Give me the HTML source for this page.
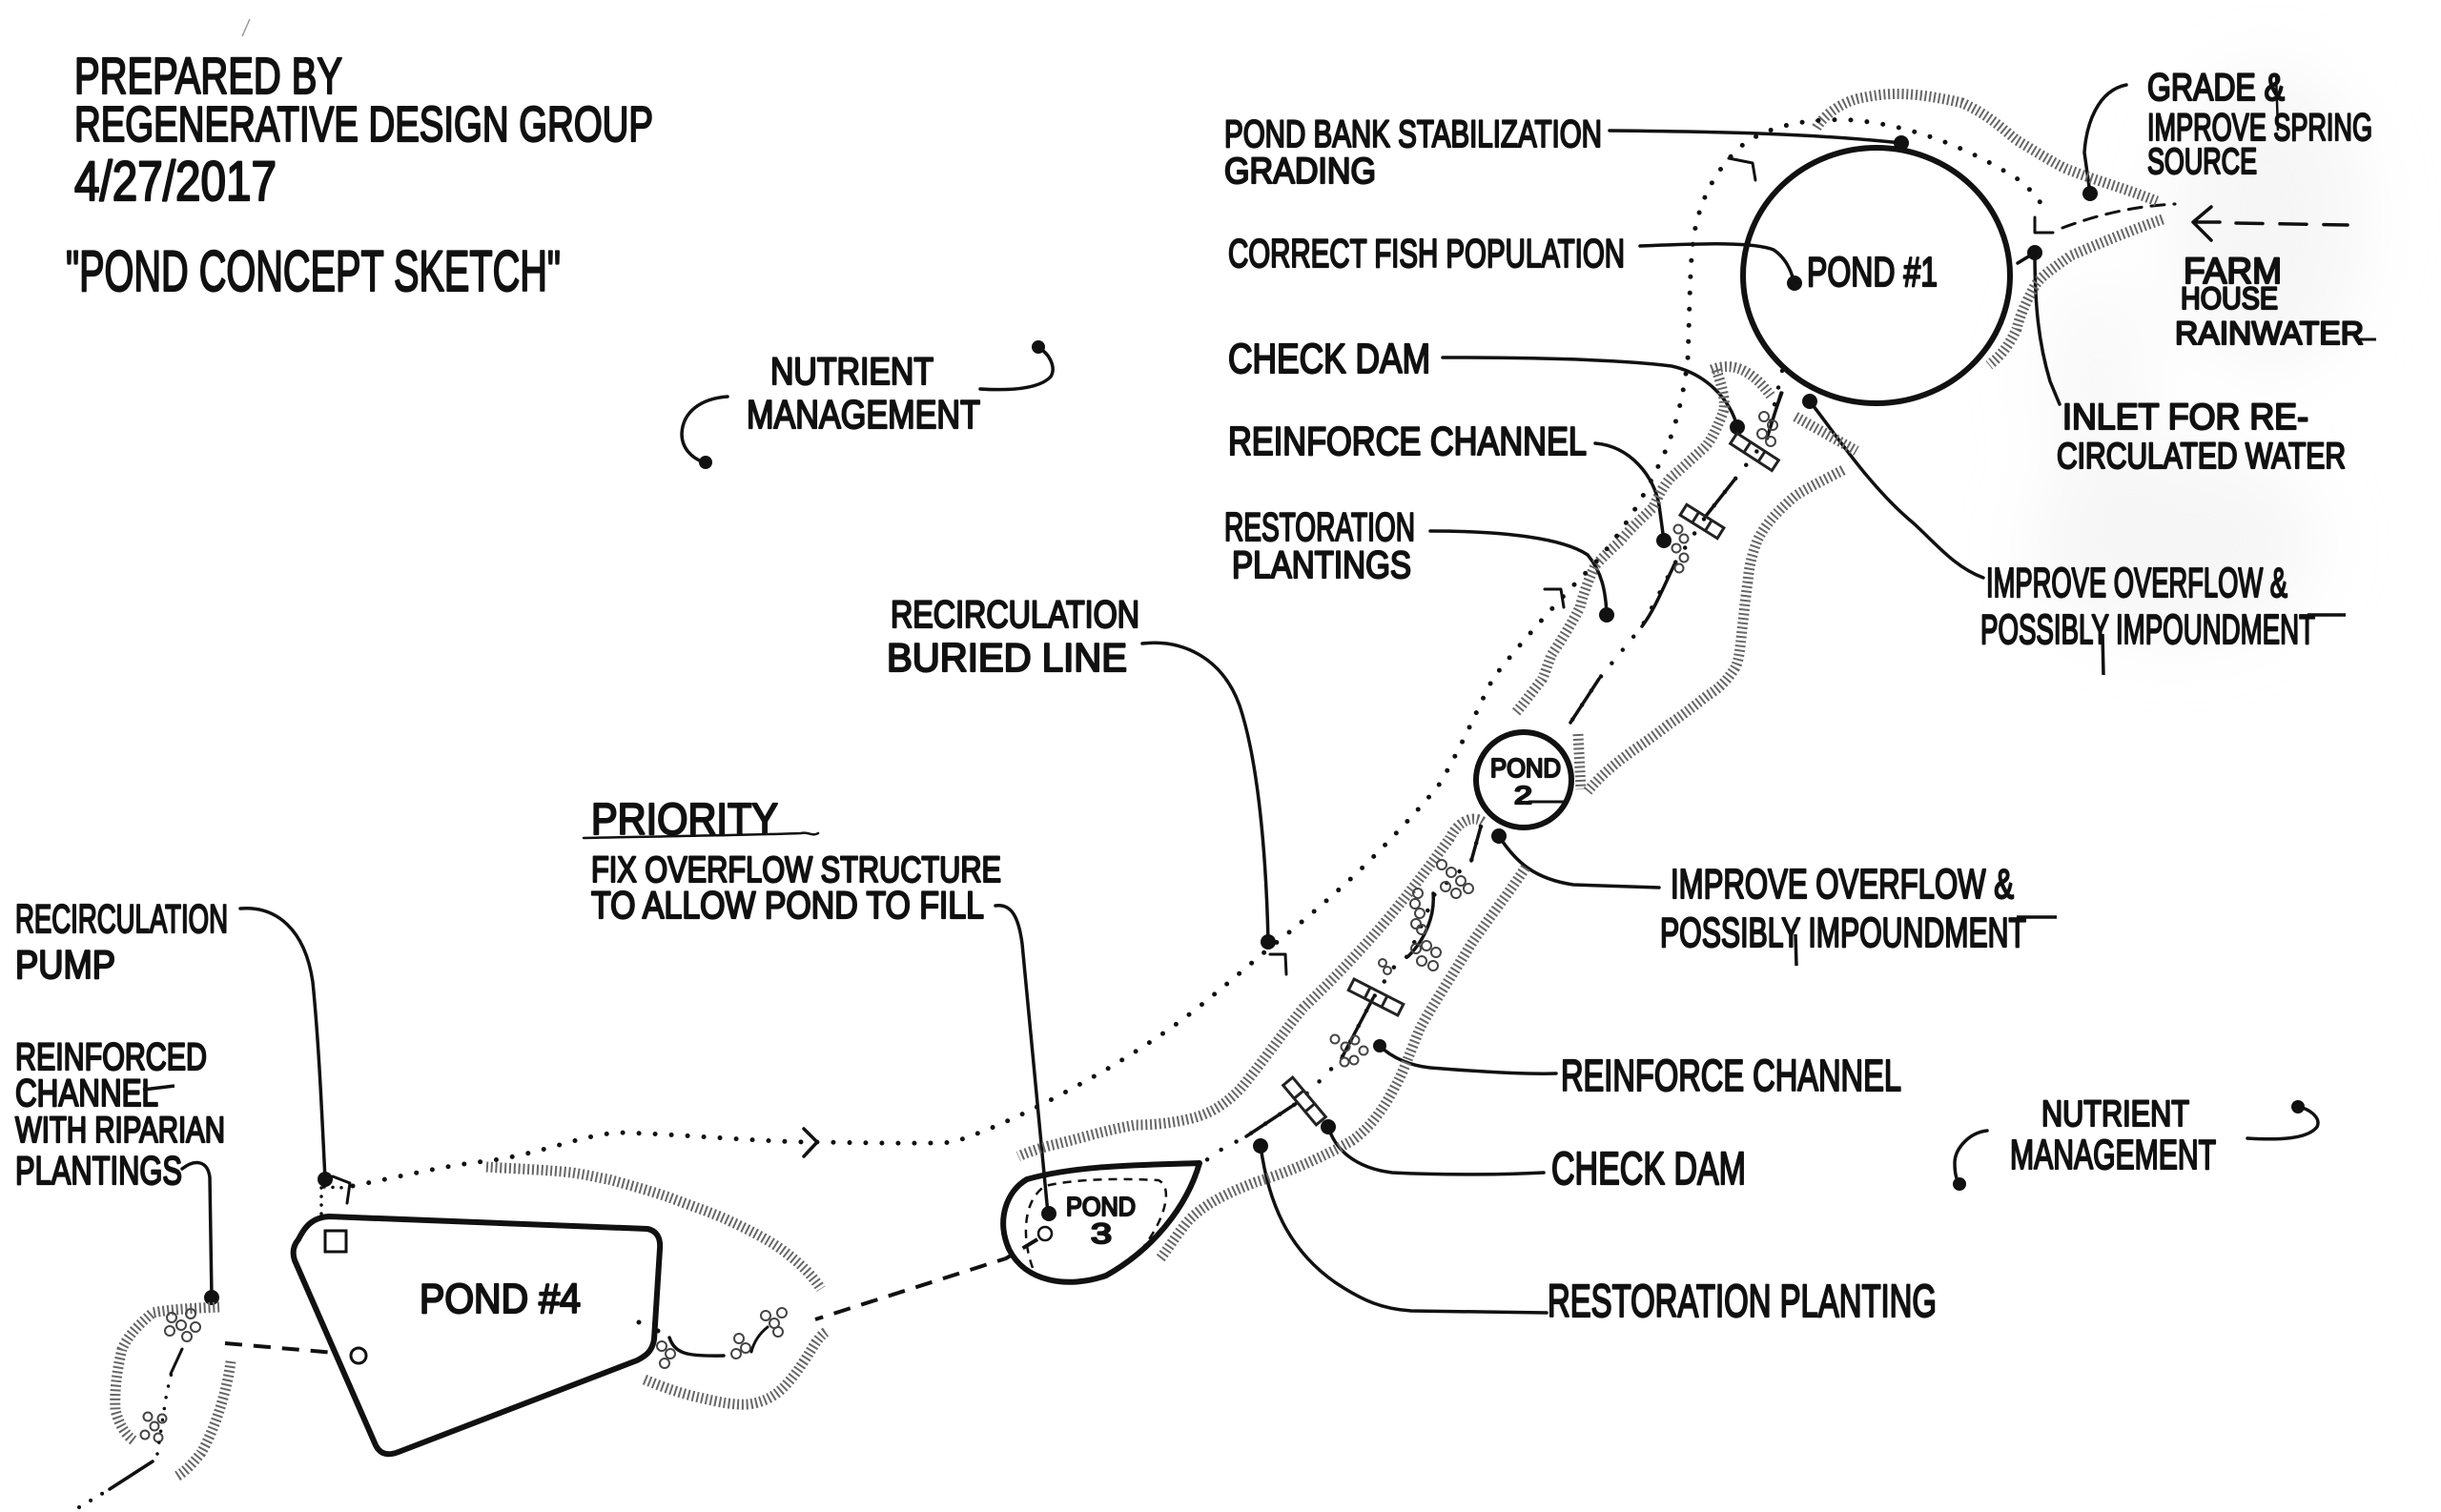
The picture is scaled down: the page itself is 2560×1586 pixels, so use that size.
<!DOCTYPE html>
<html><head><meta charset="utf-8">
<style>
html,body{margin:0;padding:0;background:#fff;}
svg{display:block}
text{font-family:"Liberation Sans Narrow","Liberation Sans",sans-serif;fill:#111;stroke:#111;stroke-width:2.2;stroke-linejoin:round}
.ld{fill:none;stroke:#111;stroke-width:3.5;stroke-linecap:round;stroke-linejoin:round}
.pd{fill:none;stroke:#111;stroke-width:6;stroke-linecap:round;stroke-linejoin:round}
.dot{fill:#111}
.sq{fill:none;stroke:#666;stroke-width:11;stroke-dasharray:2 2.8;}
.dots{fill:none;stroke:#111;stroke-width:5;stroke-linecap:round;stroke-dasharray:0 17}
.dash{fill:none;stroke:#111;stroke-width:4;stroke-dasharray:18 12}
.pl circle{fill:none;stroke:#444;stroke-width:2}
.lad{fill:none;stroke:#222;stroke-width:3}
</style></head><body>
<svg width="2560" height="1586" viewBox="0 0 2560 1586" xmlns="http://www.w3.org/2000/svg">
<defs><filter id="bl" x="-50%" y="-50%" width="200%" height="200%"><feGaussianBlur stdDeviation="35"/></filter></defs>
<rect width="2560" height="1586" fill="#fff"/>
<!-- gray scan smudges -->
<g filter="url(#bl)" fill="#ececec">
<ellipse cx="2380" cy="230" rx="100" ry="160" opacity="0.45"/>
<ellipse cx="2280" cy="570" rx="150" ry="100" opacity="0.45"/>
<ellipse cx="2200" cy="400" rx="60" ry="110" opacity="0.3"/>
</g>
<line x1="262" y1="20" x2="254" y2="38" stroke="#999" stroke-width="1.5"/>

<!-- ===== Title texts ===== -->
<text x="78" y="98" font-size="54" textLength="281" lengthAdjust="spacingAndGlyphs">PREPARED BY</text>
<text x="78" y="148" font-size="52" textLength="607" lengthAdjust="spacingAndGlyphs">REGENERATIVE DESIGN GROUP</text>
<text x="78" y="210" font-size="58" textLength="212" lengthAdjust="spacingAndGlyphs">4/27/2017</text>
<text x="69" y="305" font-size="60" textLength="519" lengthAdjust="spacingAndGlyphs">"POND CONCEPT SKETCH"</text>

<!-- ===== Nutrient management upper ===== -->
<text x="808" y="403" font-size="40" textLength="171" lengthAdjust="spacingAndGlyphs">NUTRIENT</text>
<text x="783" y="449" font-size="42" textLength="245" lengthAdjust="spacingAndGlyphs">MANAGEMENT</text>
<path class="ld" d="M1028,408 C1060,410 1090,408 1102,395 C1108,385 1100,370 1089,365"/>
<circle class="dot" cx="1089" cy="364" r="7"/>
<path class="ld" d="M763,416 C735,418 716,432 715,455 C715,470 725,480 738,485"/>
<circle class="dot" cx="740" cy="485" r="7"/>

<!-- ===== Recirculation buried line ===== -->
<text x="934" y="658" font-size="40" textLength="261" lengthAdjust="spacingAndGlyphs">RECIRCULATION</text>
<text x="930" y="704" font-size="42" textLength="252" lengthAdjust="spacingAndGlyphs">BURIED LINE</text>
<path class="ld" d="M1198,675 C1240,670 1282,690 1300,740 C1320,800 1328,900 1330,988"/>
<circle class="dot" cx="1330" cy="988" r="8"/>

<!-- ===== Priority ===== -->
<text x="620" y="875" font-size="46" textLength="196" lengthAdjust="spacingAndGlyphs">PRIORITY</text>
<path class="ld" style="stroke-width:2.5" d="M612,879 C700,877 790,876 840,874 C848,872 852,878 858,874"/>
<text x="620" y="925" font-size="38" textLength="430" lengthAdjust="spacingAndGlyphs">FIX OVERFLOW STRUCTURE</text>
<text x="620" y="963" font-size="40" textLength="412" lengthAdjust="spacingAndGlyphs">TO ALLOW POND TO FILL</text>
<path class="ld" d="M1044,950 C1060,948 1068,960 1072,990 L1099,1273"/>
<circle class="dot" cx="1100" cy="1273" r="8"/>

<!-- ===== Left labels ===== -->
<text x="16" y="978" font-size="42" textLength="223" lengthAdjust="spacingAndGlyphs">RECIRCULATION</text>
<text x="16" y="1026" font-size="42" textLength="105" lengthAdjust="spacingAndGlyphs">PUMP</text>
<path class="ld" d="M252,953 C290,950 320,975 328,1030 C335,1100 338,1180 341,1237"/>
<circle class="dot" cx="341" cy="1237" r="8"/>
<text x="16" y="1122" font-size="40" textLength="201" lengthAdjust="spacingAndGlyphs">REINFORCED</text>
<text x="16" y="1160" font-size="40" textLength="150" lengthAdjust="spacingAndGlyphs">CHANNEL</text>
<line x1="150" y1="1143" x2="183" y2="1139" stroke="#111" stroke-width="3.5"/>
<text x="16" y="1198" font-size="38" textLength="220" lengthAdjust="spacingAndGlyphs">WITH RIPARIAN</text>
<text x="16" y="1242" font-size="42" textLength="175" lengthAdjust="spacingAndGlyphs">PLANTINGS</text>
<path class="ld" d="M191,1226 C205,1215 218,1218 220,1235 L222,1361"/>
<circle class="dot" cx="222" cy="1361" r="8"/>

<!-- ===== Right labels upper ===== -->
<text x="1284" y="154" font-size="40" textLength="396" lengthAdjust="spacingAndGlyphs">POND BANK STABILIZATION</text>
<text x="1284" y="192" font-size="38" textLength="159" lengthAdjust="spacingAndGlyphs">GRADING</text>
<path class="ld" d="M1688,137 C1800,138 1900,140 1994,150"/>
<circle class="dot" cx="1994" cy="150" r="8"/>

<text x="1288" y="280" font-size="42" textLength="416" lengthAdjust="spacingAndGlyphs">CORRECT FISH POPULATION</text>
<path class="ld" d="M1720,258 C1790,255 1840,254 1860,262 C1872,270 1878,282 1882,297"/>
<circle class="dot" cx="1882" cy="297" r="8"/>

<text x="1288" y="391" font-size="44" textLength="212" lengthAdjust="spacingAndGlyphs">CHECK DAM</text>
<path class="ld" d="M1513,375 C1600,375 1700,377 1753,384 C1790,392 1815,420 1822,448"/>
<circle class="dot" cx="1822" cy="448" r="8"/>

<text x="1288" y="477" font-size="42" textLength="376" lengthAdjust="spacingAndGlyphs">REINFORCE CHANNEL</text>
<path class="ld" d="M1673,465 C1710,468 1735,500 1740,530 L1745,567"/>
<circle class="dot" cx="1745" cy="567" r="8"/>

<text x="1284" y="567" font-size="42" textLength="200" lengthAdjust="spacingAndGlyphs">RESTORATION</text>
<text x="1292" y="606" font-size="40" textLength="188" lengthAdjust="spacingAndGlyphs">PLANTINGS</text>
<path class="ld" d="M1500,557 C1580,557 1640,565 1665,582 C1680,600 1684,620 1685,645"/>
<circle class="dot" cx="1685" cy="645" r="8"/>

<text x="2252" y="105" font-size="40" textLength="144" lengthAdjust="spacingAndGlyphs">GRADE &amp;</text>
<line x1="2387" y1="77" x2="2389" y2="137" stroke="#111" stroke-width="2.5"/>
<text x="2252" y="147" font-size="40" textLength="236" lengthAdjust="spacingAndGlyphs">IMPROVE SPRING</text>
<text x="2252" y="182" font-size="38" textLength="115" lengthAdjust="spacingAndGlyphs">SOURCE</text>
<path class="ld" d="M2230,89 C2200,95 2188,130 2186,160 L2192,203"/>
<circle class="dot" cx="2192" cy="203" r="8"/>

<text x="2290" y="297" font-size="38" textLength="103" lengthAdjust="spacingAndGlyphs">FARM</text>
<text x="2287" y="324" font-size="32" textLength="102" lengthAdjust="spacingAndGlyphs">HOUSE</text>
<text x="2281" y="361" font-size="34" textLength="198" lengthAdjust="spacingAndGlyphs">RAINWATER</text>
<line x1="2470" y1="356" x2="2492" y2="356" stroke="#111" stroke-width="3"/>
<!-- farm arrow -->
<path class="ld" d="M2319,217 L2300,233 L2319,252 M2300,233 L2328,233"/>
<path class="ld" style="stroke-dasharray:28 18" d="M2345,234 L2462,236"/>
<path class="ld" style="stroke-width:3;stroke-dasharray:14 10" d="M2163,239 C2200,225 2240,216 2281,214"/>
<path class="ld" style="stroke-width:3" d="M2134,228 L2134,244 L2153,244"/>

<text x="2163" y="450" font-size="38" textLength="258" lengthAdjust="spacingAndGlyphs">INLET FOR RE-</text>
<text x="2157" y="491" font-size="38" textLength="303" lengthAdjust="spacingAndGlyphs">CIRCULATED WATER</text>
<path class="ld" d="M2134,265 C2134,320 2138,360 2150,400 L2160,424 M2134,265 L2116,276"/>
<circle class="dot" cx="2134" cy="265" r="8"/>

<text x="2083" y="626" font-size="44" textLength="316" lengthAdjust="spacingAndGlyphs">IMPROVE OVERFLOW &amp;</text>
<text x="2077" y="675" font-size="44" textLength="351" lengthAdjust="spacingAndGlyphs">POSSIBLY IMPOUNDMENT</text>
<line x1="2420" y1="645" x2="2460" y2="645" stroke="#111" stroke-width="3.5"/>
<line x1="2205" y1="665" x2="2206" y2="708" stroke="#111" stroke-width="3.5"/>
<path class="ld" d="M1898,421 C1925,455 1960,510 2007,549 C2030,570 2050,595 2080,606"/>
<circle class="dot" cx="1898" cy="421" r="8"/>

<!-- ===== Right labels lower ===== -->
<text x="1752" y="942" font-size="44" textLength="360" lengthAdjust="spacingAndGlyphs">IMPROVE OVERFLOW &amp;</text>
<text x="1741" y="993" font-size="44" textLength="384" lengthAdjust="spacingAndGlyphs">POSSIBLY IMPOUNDMENT</text>
<line x1="2115" y1="962" x2="2157" y2="962" stroke="#111" stroke-width="3.5"/>
<line x1="1883" y1="980" x2="1884" y2="1013" stroke="#111" stroke-width="3.5"/>
<path class="ld" d="M1572,877 C1590,905 1610,922 1650,928 L1740,931"/>
<circle class="dot" cx="1572" cy="877" r="8"/>

<text x="1637" y="1144" font-size="46" textLength="357" lengthAdjust="spacingAndGlyphs">REINFORCE CHANNEL</text>
<path class="ld" d="M1447,1097 C1460,1110 1480,1118 1500,1120 C1550,1124 1600,1127 1632,1126"/>
<circle class="dot" cx="1447" cy="1097" r="7"/>

<text x="1627" y="1242" font-size="48" textLength="204" lengthAdjust="spacingAndGlyphs">CHECK DAM</text>
<path class="ld" d="M1393,1182 C1400,1205 1420,1225 1460,1230 C1520,1233 1580,1232 1619,1230"/>
<circle class="dot" cx="1393" cy="1182" r="8"/>

<text x="1623" y="1381" font-size="48" textLength="408" lengthAdjust="spacingAndGlyphs">RESTORATION PLANTING</text>
<path class="ld" d="M1322,1202 C1330,1260 1350,1310 1400,1345 C1430,1365 1450,1373 1480,1375 L1622,1377"/>
<circle class="dot" cx="1322" cy="1202" r="8"/>

<text x="2141" y="1181" font-size="38" textLength="155" lengthAdjust="spacingAndGlyphs">NUTRIENT</text>
<text x="2108" y="1226" font-size="44" textLength="216" lengthAdjust="spacingAndGlyphs">MANAGEMENT</text>
<path class="ld" d="M2357,1194 C2390,1196 2420,1195 2430,1182 C2435,1172 2420,1162 2410,1161"/>
<circle class="dot" cx="2410" cy="1161" r="7"/>
<path class="ld" d="M2084,1186 C2065,1188 2050,1205 2050,1220 C2050,1232 2052,1238 2055,1242"/>
<circle class="dot" cx="2055" cy="1242" r="7"/>

<!-- ===== Vegetation squiggles (hatched bands) ===== -->
<path class="sq" d="M1905,134 C1915,118 1935,105 1956,102 C1980,97 2007,96 2058,108 C2085,120 2100,135 2115,147 C2140,162 2160,175 2172,179 C2200,190 2230,198 2262,211"/>
<path class="sq" d="M2268,230 C2245,238 2224,246 2172,268 C2155,280 2140,290 2134,300 C2124,318 2118,332 2115,345 C2108,360 2100,372 2086,383"/>
<path class="sq" d="M1795,388 C1815,380 1835,385 1857,415"/>
<path class="sq" d="M1800,388 C1808,410 1810,425 1807,433 C1800,450 1795,462 1787,470 C1770,485 1760,495 1753,500 C1740,515 1738,525 1733,533 C1715,550 1705,560 1700,567 C1685,580 1678,588 1673,593 C1665,610 1660,625 1657,637 C1645,660 1635,675 1627,687 C1622,700 1620,708 1617,713 C1605,728 1598,738 1590,747"/>
<path class="sq" d="M1883,437 L1947,473"/>
<path class="sq" d="M1933,493 C1910,505 1895,512 1883,520 C1862,538 1850,552 1843,567 C1836,585 1834,598 1833,610 C1830,630 1829,645 1827,660 C1825,680 1824,692 1820,700 C1810,716 1800,724 1790,730 C1775,742 1762,752 1750,760 C1735,772 1723,780 1713,787 C1695,800 1680,812 1665,830"/>
<path class="sq" d="M1655,770 L1658,828"/>
<path class="sq" d="M1555,862 C1545,855 1530,860 1520,880 C1505,900 1480,935 1450,970 C1420,1005 1395,1030 1367,1057 C1340,1090 1320,1120 1300,1143 C1285,1158 1270,1168 1250,1173 C1230,1178 1210,1180 1191,1180 C1160,1185 1130,1195 1100,1202 C1085,1206 1075,1210 1068,1213"/>
<path class="sq" d="M1600,910 C1580,940 1560,965 1543,990 C1525,1020 1505,1050 1490,1077 C1480,1100 1472,1125 1463,1140 C1450,1165 1435,1185 1417,1197 C1385,1215 1350,1230 1317,1240 C1285,1252 1260,1265 1245,1282 C1232,1298 1225,1310 1217,1320"/>
<path class="sq" d="M510,1224 C540,1226 574,1227 600,1230 C620,1233 630,1236 638,1237 C660,1243 685,1250 702,1256 C725,1265 750,1273 766,1281 C790,1292 810,1303 823,1313 C840,1326 852,1338 861,1352"/>
<path class="sq" d="M676,1447 C695,1455 715,1462 734,1466 C755,1471 770,1474 785,1473 C805,1470 815,1462 823,1454 C838,1438 848,1420 855,1409 C860,1402 864,1398 868,1396"/>
<path class="sq" d="M230,1371 C210,1372 180,1373 160,1377 C145,1390 135,1400 128,1415 C122,1440 120,1460 121,1479 C125,1495 132,1505 140,1511"/>
<path class="sq" d="M242,1428 C238,1460 225,1500 211,1524 C202,1535 195,1543 185,1549"/>

<!-- ===== Recirculation dotted line ===== -->
<path class="dots" d="M370,1244 C430,1232 470,1222 510,1218 C570,1210 610,1190 650,1188 C720,1190 800,1198 855,1198 C920,1199 980,1200 1000,1198 C1060,1178 1110,1150 1160,1122 C1200,1098 1230,1078 1255,1058 C1290,1030 1310,1012 1332,994 C1380,956 1420,920 1447,892 C1480,858 1500,835 1510,822 C1540,770 1555,730 1567,710 C1590,680 1630,635 1657,607 C1690,575 1720,530 1737,493 C1755,460 1765,420 1770,377 C1772,330 1772,280 1776,250 C1782,210 1800,175 1830,150 C1860,130 1900,124 1943,126 C2010,132 2070,158 2121,191 C2135,205 2143,215 2146,225"/>
<path class="ld" d="M843,1184 L857,1198 L843,1213"/>
<path class="ld" style="stroke-width:3" d="M1332,1001 L1348,1001 L1349,1022"/>
<path class="ld" style="stroke-width:3" d="M1620,618 L1637,618 L1640,637"/>
<path class="ld" style="stroke-width:3" d="M1813,166 L1838,171 L1841,189"/>
<path class="ld" style="stroke-width:3" d="M349,1234 L367,1241 L364,1262"/>
<path class="dots" style="stroke-width:3.5;stroke-dasharray:0 9" d="M337,1246 L337,1276 M340,1245 L365,1246"/>

<!-- ===== Creek centerline ===== -->
<path class="dots" style="stroke-width:4.5;stroke-dasharray:0 18" d="M1869,389 L1853,460 L1820,502 L1790,540 L1757,590 L1722,657 L1677,712 L1647,758 L1640,768"/>
<path class="dots" style="stroke-width:4.5;stroke-dasharray:0 18" d="M1553,867 L1543,903 L1505,937 L1477,1003 L1467,1007 L1440,1047 L1407,1110 L1383,1135 L1360,1157 L1307,1192 L1273,1210 L1262,1220"/>
<path class="ld" d="M1868,412 L1853,460 M1820,502 L1790,540 M1757,590 C1745,615 1735,640 1722,657 M1677,712 L1647,758 M1553,867 L1543,903 M1503,937 C1505,960 1495,985 1477,1003 M1440,1047 L1407,1110 M1360,1157 L1307,1192"/>

<!-- check dams -->
<g class="lad" transform="translate(1840,474) rotate(33)"><rect x="-26" y="-6.5" width="52" height="13"/><line x1="-9" y1="-6.5" x2="-9" y2="6.5"/><line x1="9" y1="-6.5" x2="9" y2="6.5"/></g>
<g class="lad" transform="translate(1785,547) rotate(32)"><rect x="-23" y="-6.5" width="46" height="13"/><line x1="-8" y1="-6.5" x2="-8" y2="6.5"/><line x1="8" y1="-6.5" x2="8" y2="6.5"/></g>
<g class="lad" transform="translate(1443,1046) rotate(27)"><rect x="-29" y="-6.5" width="58" height="13"/><line x1="-10" y1="-6.5" x2="-10" y2="6.5"/><line x1="10" y1="-6.5" x2="10" y2="6.5"/></g>
<g class="lad" transform="translate(1368,1155) rotate(50)"><rect x="-27" y="-6.5" width="54" height="13"/><line x1="-9" y1="-6.5" x2="-9" y2="6.5"/><line x1="9" y1="-6.5" x2="9" y2="6.5"/></g>

<!-- plant clusters -->
<g class="pl">
<circle cx="1850" cy="437" r="5"/><circle cx="1859" cy="446" r="5"/><circle cx="1848" cy="455" r="5"/><circle cx="1857" cy="463" r="5"/>
<circle cx="1760" cy="555" r="4.5"/><circle cx="1766" cy="565" r="4.5"/><circle cx="1758" cy="575" r="4.5"/><circle cx="1766" cy="585" r="4.5"/><circle cx="1761" cy="596" r="4.5"/>
<circle cx="1512" cy="907" r="5"/><circle cx="1522" cy="915" r="5"/><circle cx="1532" cy="924" r="5"/><circle cx="1516" cy="930" r="5"/><circle cx="1527" cy="937" r="5"/><circle cx="1540" cy="932" r="5"/>
<circle cx="1487" cy="937" r="5"/><circle cx="1484" cy="948" r="5"/><circle cx="1489" cy="958" r="5"/><circle cx="1485" cy="969" r="5"/><circle cx="1491" cy="975" r="5"/>
<circle cx="1485" cy="995" r="5"/><circle cx="1496" cy="992" r="5"/><circle cx="1506" cy="999" r="5"/><circle cx="1491" cy="1008" r="5"/><circle cx="1503" cy="1013" r="5"/>
<circle cx="1450" cy="1010" r="4"/><circle cx="1455" cy="1018" r="4"/>
<circle cx="1400" cy="1090" r="4.5"/><circle cx="1411" cy="1098" r="4.5"/><circle cx="1421" cy="1091" r="4.5"/><circle cx="1430" cy="1102" r="4.5"/><circle cx="1420" cy="1112" r="4.5"/><circle cx="1410" cy="1114" r="4.5"/>
<circle cx="694" cy="1412" r="5"/><circle cx="703" cy="1420" r="5"/><circle cx="697" cy="1430" r="5"/>
<circle cx="775" cy="1404" r="5"/><circle cx="782" cy="1414" r="5"/><circle cx="772" cy="1420" r="5"/>
<circle cx="803" cy="1380" r="5"/><circle cx="812" cy="1388" r="5"/><circle cx="820" cy="1377" r="5"/><circle cx="816" cy="1397" r="5"/>
<circle cx="180" cy="1382" r="5"/><circle cx="190" cy="1390" r="5"/><circle cx="178" cy="1396" r="5"/><circle cx="200" cy="1378" r="5"/><circle cx="196" cy="1402" r="5"/><circle cx="205" cy="1392" r="5"/>
<circle cx="155" cy="1486" r="4.5"/><circle cx="162" cy="1496" r="4.5"/><circle cx="152" cy="1505" r="4.5"/><circle cx="166" cy="1508" r="4.5"/><circle cx="170" cy="1488" r="4.5"/>
</g>
<path class="ld" style="stroke-width:3" d="M805,1392 C795,1400 790,1410 788,1418 M179,1441 L191,1415 M1869,412 L1860,437"/>

<!-- ===== Ponds ===== -->
<ellipse class="pd" cx="1968" cy="289" rx="140" ry="134"/>
<text x="1895" y="300" font-size="44" textLength="137" lengthAdjust="spacingAndGlyphs">POND #1</text>

<circle class="pd" cx="1598" cy="818" r="50"/>
<text x="1563" y="815" font-size="28" textLength="74" lengthAdjust="spacingAndGlyphs">POND</text>
<text x="1588" y="843" font-size="26" textLength="19" lengthAdjust="spacingAndGlyphs">2</text>
<line x1="1603" y1="841" x2="1641" y2="841" stroke="#111" stroke-width="3"/>

<path class="pd" d="M1077,1237 C1130,1222 1200,1222 1258,1220 C1245,1265 1210,1310 1160,1338 C1120,1352 1075,1345 1058,1310 C1045,1280 1055,1250 1077,1237 Z"/>
<path fill="none" stroke="#111" stroke-width="2.5" stroke-dasharray="9 7" d="M1083,1330 C1072,1300 1072,1260 1096,1244 C1130,1236 1180,1236 1215,1238 C1230,1245 1222,1275 1205,1300 L1192,1318"/>
<text x="1118" y="1275" font-size="28" textLength="73" lengthAdjust="spacingAndGlyphs">POND</text>
<text x="1144" y="1304" font-size="30" textLength="22" lengthAdjust="spacingAndGlyphs">3</text>
<circle cx="1096" cy="1294" r="7" fill="none" stroke="#111" stroke-width="2.5"/>

<path class="pd" d="M313,1300 C320,1286 328,1277 345,1276 L679,1289 C689,1291 693,1299 692,1310 L686,1405 C684,1417 678,1422 668,1427 L418,1523 C405,1528 398,1524 394,1516 L309,1322 C306,1313 308,1306 313,1300 Z"/>
<text x="440" y="1377" font-size="44" textLength="169" lengthAdjust="spacingAndGlyphs">POND #4</text>
<rect x="341" y="1291" width="22" height="22" fill="none" stroke="#111" stroke-width="3"/>
<circle cx="376" cy="1422" r="8" fill="none" stroke="#111" stroke-width="3"/>

<!-- dashed connections -->
<path class="dash" d="M1088,1300 L1055,1320 L855,1384"/>
<path class="dash" d="M236,1409 L351,1419"/>
<path class="ld" d="M702,1403 C708,1420 720,1423 759,1422"/>
<circle class="dot" cx="670" cy="1387" r="2.5"/><circle class="dot" cx="690" cy="1396" r="2.5"/>
<path class="dots" style="stroke-width:4;stroke-dasharray:0 14" d="M83,1581 L115,1562"/>
<path class="ld" d="M115,1562 L160,1533"/>
<path class="dots" style="stroke-width:3.5;stroke-dasharray:0 12" d="M165,1525 L175,1460 L180,1440"/>
</svg>
</body></html>
